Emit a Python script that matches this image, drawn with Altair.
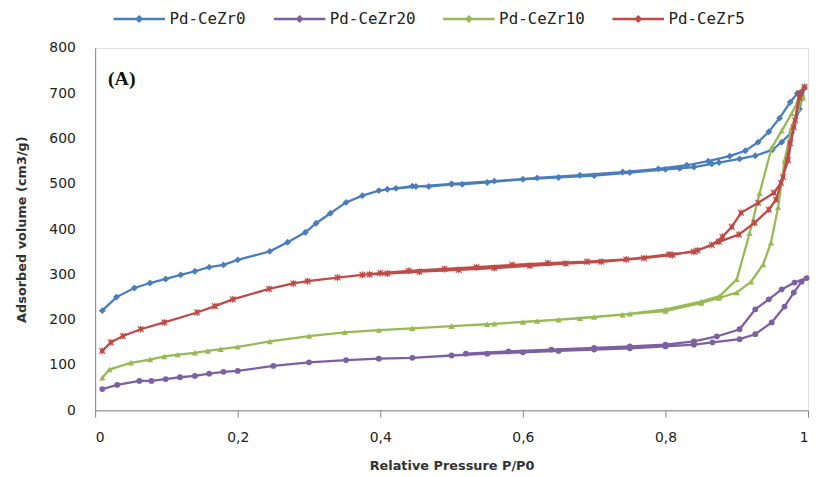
import altair as alt
import pandas as pd

# ---------------- data ----------------
series_names = ["Pd-CeZr0", "Pd-CeZr20", "Pd-CeZr10", "Pd-CeZr5"]
series_colors = ["#4A7EBB", "#7D60A0", "#98B954", "#BE4B48"]

# Pd-CeZr0 (blue)
cezr0_ads_x = [0.01, 0.03, 0.055, 0.077, 0.099, 0.12, 0.14, 0.16, 0.18, 0.2, 0.245, 0.27, 0.295, 0.31,
               0.33, 0.352, 0.375, 0.398, 0.422, 0.445, 0.468, 0.5, 0.515, 0.55, 0.6, 0.65, 0.7, 0.75,
               0.8, 0.82, 0.84, 0.865, 0.875, 0.904, 0.926, 0.95, 0.963, 0.977, 0.988, 0.995]
cezr0_ads_y = [220, 250, 270, 281, 290, 299, 307, 316, 321, 332, 351, 371, 393, 413,
               435, 459, 474, 485, 490, 495, 494, 499, 499, 503, 510, 514, 518, 525,
               532, 534, 537, 544, 547, 555, 562, 575, 592, 614, 665, 712]
cezr0_des_x = [0.985, 0.975, 0.96, 0.945, 0.93, 0.912, 0.89, 0.86, 0.83, 0.79, 0.74, 0.68, 0.62,
               0.56, 0.5, 0.45, 0.41]
cezr0_des_y = [700, 680, 645, 615, 592, 573, 561, 550, 541, 533, 526, 519, 513,
               506, 500, 494, 488]

# Pd-CeZr20 (purple)
cezr20_ads_x = [0.01, 0.031, 0.062, 0.079, 0.099, 0.119, 0.14, 0.16, 0.18, 0.2, 0.25, 0.3, 0.352,
                0.398, 0.445, 0.5, 0.55, 0.6, 0.65, 0.7, 0.75, 0.8, 0.84, 0.866, 0.904, 0.926,
                0.949, 0.967, 0.98, 0.991, 0.998]
cezr20_ads_y = [47, 56, 65, 65, 69, 73, 76, 81, 85, 87, 98, 106, 111,
                114, 116, 121, 125, 128, 131, 134, 137, 141, 145, 150, 157, 168,
                194, 229, 260, 284, 292]
cezr20_des_x = [0.981, 0.963, 0.945, 0.926, 0.904, 0.872, 0.84, 0.8, 0.75, 0.7, 0.64, 0.58, 0.52]
cezr20_des_y = [282, 267, 245, 223, 179, 163, 152, 145, 141, 138, 134, 130, 125]

# Pd-CeZr10 (green)
cezr10_ads_x = [0.01, 0.02, 0.05, 0.077, 0.097, 0.116, 0.14, 0.158, 0.176, 0.2, 0.245, 0.3, 0.35,
                0.398, 0.445, 0.5, 0.55, 0.6, 0.65, 0.7, 0.75, 0.8, 0.85, 0.875, 0.9, 0.92,
                0.937, 0.948, 0.958, 0.967, 0.977, 0.986, 0.993]
cezr10_ads_y = [72, 90, 105, 112, 119, 123, 127, 131, 135, 140, 152, 164, 172,
                177, 181, 186, 190, 195, 200, 206, 213, 219, 237, 248, 260, 284,
                322, 370, 448, 551, 624, 665, 690]
cezr10_des_x = [0.986, 0.977, 0.963, 0.949, 0.932, 0.918, 0.9, 0.876, 0.85, 0.8, 0.74, 0.68, 0.62,
                0.56, 0.5]
cezr10_des_y = [683, 655, 617, 580, 479, 391, 289, 252, 240, 223, 211, 203, 197, 191, 186]

# Pd-CeZr5 (red)
cezr5_ads_x = [0.01, 0.022, 0.039, 0.064, 0.097, 0.143, 0.168, 0.193, 0.244, 0.278, 0.298, 0.34,
               0.375, 0.4, 0.44, 0.49, 0.535, 0.585, 0.635, 0.69, 0.745, 0.805, 0.84, 0.875,
               0.903, 0.925, 0.945, 0.955, 0.965, 0.975, 0.982, 0.988, 0.995]
cezr5_ads_y = [131, 150, 164, 179, 194, 216, 230, 245, 268, 280, 285, 293,
               299, 303, 308, 312, 316, 321, 325, 328, 333, 344, 350, 372,
               388, 414, 443, 465, 515, 590, 640, 690, 714]
cezr5_des_x = [0.988, 0.98, 0.972, 0.962, 0.952, 0.93, 0.906, 0.893, 0.88, 0.865, 0.845, 0.81,
               0.77, 0.71, 0.66, 0.61, 0.56, 0.51, 0.455, 0.41, 0.385]
cezr5_des_y = [700, 625, 552, 502, 480, 458, 436, 405, 383, 365, 353, 343,
               336, 328, 324, 319, 314, 310, 306, 302, 300]

x_ticks = [0, 0.2, 0.4, 0.6, 0.8, 1]
y_ticks = [0, 100, 200, 300, 400, 500, 600, 700, 800]
panel_label = ["(A)"]

# ---------------- build table ----------------
series_xy = {
    "Pd-CeZr0": (cezr0_ads_x + cezr0_des_x, cezr0_ads_y + cezr0_des_y),
    "Pd-CeZr20": (cezr20_ads_x + cezr20_des_x, cezr20_ads_y + cezr20_des_y),
    "Pd-CeZr10": (cezr10_ads_x + cezr10_des_x, cezr10_ads_y + cezr10_des_y),
    "Pd-CeZr5": (cezr5_ads_x + cezr5_des_x, cezr5_ads_y + cezr5_des_y),
}
rows = []
for name in series_names:
    xs, ys = series_xy[name]
    for i, (xv, yv) in enumerate(zip(xs, ys)):
        rows.append({"series": name, "p": xv, "v": yv, "idx": i})
df = pd.DataFrame(rows)

# ---------------- styling ----------------
AXIS_GREY = "#868686"
TICK_FONT = "DejaVu Sans"

x_enc = alt.X("p:Q", scale=alt.Scale(domain=[0, 1], nice=False, zero=False),
              axis=alt.Axis(values=x_ticks, title="Relative Pressure P/P0",
                            labelExpr="replace(format(datum.value, '~g'), '.', ',')",
                            grid=False, tickSize=7, tickColor=AXIS_GREY, domainColor=AXIS_GREY,
                            labelFont=TICK_FONT, labelFontSize=14, labelColor="#222222",
                            labelPadding=13, titleFont="DejaVu Sans", titleFontSize=13,
                            titleFontWeight="bold", titleColor="#333333", titlePadding=16))
y_enc = alt.Y("v:Q", scale=alt.Scale(domain=[0, 800], nice=False),
              axis=alt.Axis(values=y_ticks, title="Adsorbed volume (cm3/g)", grid=False,
                            ticks=False, tickSize=0, domainColor=AXIS_GREY,
                            labelFont=TICK_FONT, labelFontSize=14, labelColor="#222222",
                            labelPadding=20, titleFont="DejaVu Sans", titleFontSize=13,
                            titleFontWeight="bold", titleColor="#333333", titlePadding=21))
color_scale = alt.Scale(domain=series_names, range=series_colors)

marker_shapes = {
    "Pd-CeZr0": ("diamond", 48),
    "Pd-CeZr20": ("circle", 34),
    "Pd-CeZr10": ("triangle-up", 40),
    "Pd-CeZr5": ("M-0.55,-0.55H0.55V0.55H-0.55Z M-1,-1L1,1 M-1,1L1,-1 M0,-1.2V1.2", 34),
}

# legend symbol: a line with a small marker in the middle
leg = alt.Legend(orient="none", legendX=17, legendY=-57, direction="horizontal",
                 title=None, labelFont="DejaVu Sans Mono", labelFontSize=16,
                 labelColor="#222222", columnPadding=22, labelOffset=3,
                 symbolType="M-1,0H1M0,-0.09L0.09,0L0,0.09L-0.09,0Z",
                 symbolSize=2704, symbolStrokeWidth=2.5)

base = alt.Chart(df)
layers = []
for k, (name, col) in enumerate(zip(series_names, series_colors)):
    sub = base.transform_filter(alt.datum.series == name)
    layers.append(
        sub.mark_line(strokeWidth=2.3).encode(
            x=x_enc, y=y_enc,
            color=alt.Color("series:N", scale=color_scale, legend=leg if k == 0 else None),
            order=alt.Order("idx:Q"))
    )
    shp, sz = marker_shapes[name]
    pt_kwargs = dict(shape=shp, size=sz, filled=True, opacity=1)
    if name == "Pd-CeZr5":
        pt_kwargs.update(stroke=col, strokeWidth=1.1)
    layers.append(sub.mark_point(**pt_kwargs).encode(
        x=x_enc, y=y_enc, color=alt.Color("series:N", scale=color_scale, legend=None)))

label_df = pd.DataFrame({"label": panel_label})
label_layer = alt.Chart(label_df).mark_text(font="Liberation Serif", fontWeight="bold", fontSize=20,
                                            align="left", baseline="middle", color="#111111").encode(
    text="label:N", x=alt.value(13), y=alt.value(31))

chart = alt.layer(*layers, label_layer).properties(
    width=720, height=366,
    autosize=alt.AutoSizeParams(type="none"),
    padding={"left": 88, "top": 38, "right": 5, "bottom": 63},
).configure_view(stroke=AXIS_GREY, strokeWidth=1).configure(background="white")

chart.save("out.html", embed_options={"renderer": "svg", "actions": False})
